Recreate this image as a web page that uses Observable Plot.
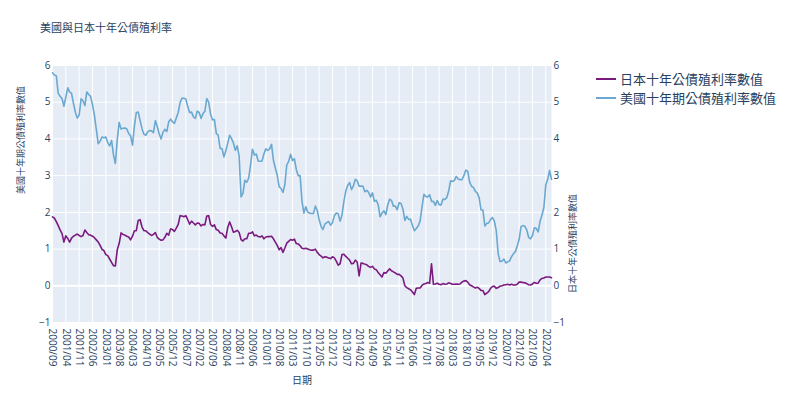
<!DOCTYPE html>
<html>
<head>
<meta charset="utf-8">
<script src="https://cdn.jsdelivr.net/npm/d3@7"></script>
<script src="https://cdn.jsdelivr.net/npm/@observablehq/plot@0.6"></script>
<style>
  body { margin: 0; background: #fff; }
  #wrap { position: relative; width: 788px; height: 394px; overflow: hidden;
    font-family: "Open Sans", "Noto Sans CJK TC", sans-serif; color: #2a3f5f; }
  #wrap svg { position: absolute; left: 0; top: 0; }
  #title { position: absolute; left: 40px; top: 22px; font-size: 11px; line-height: 12px; white-space: nowrap; }
  .leg { position: absolute; left: 596px; font-size: 13px; line-height: 16px; display: flex; align-items: center; white-space: nowrap; }
  .leg span.sw { display: inline-block; width: 20px; height: 2px; margin-right: 4px; }
</style>
</head>
<body>
<div id="wrap">
  <div id="title"></div>
</div>
<script>
// ---- data ----
const chartTitle = "美國與日本十年公債殖利率";
const xTitle = "日期";
const leftTitle = "美國十年期公債殖利率數值";
const rightTitle = "日本十年公債殖利率數值";
const seriesNames = ["日本十年公債殖利率數值", "美國十年期公債殖利率數值"];
const seriesColors = ["#7a1a7e", "#6aa8d0"];
const yTicks = [-1, 0, 1, 2, 3, 4, 5, 6];

// monthly categories 2000/09 .. 2022/07
const months = [];
for (let y = 2000, m = 9; y < 2022 || (y === 2022 && m <= 7); ) {
  months.push(`${y}/${String(m).padStart(2, "0")}`);
  m++; if (m > 12) { m = 1; y++; }
}
const xTicks = months.filter((d, i) => i % 7 === 0);

const usYield = [
  5.80, 5.74, 5.72, 5.24,
  5.16, 5.10, 4.89, 5.14, 5.39, 5.28, 5.24, 4.97, 4.73, 4.57, 4.65, 5.09,
  5.04, 4.91, 5.28, 5.21, 5.16, 4.93, 4.65, 4.26, 3.87, 3.94, 4.05, 4.03,
  4.05, 3.90, 3.81, 3.96, 3.57, 3.33, 3.98, 4.45, 4.27, 4.29, 4.30, 4.27,
  4.15, 4.08, 3.83, 4.35, 4.72, 4.73, 4.50, 4.28, 4.13, 4.10, 4.19, 4.23,
  4.22, 4.17, 4.50, 4.34, 4.14, 4.00, 4.18, 4.26, 4.20, 4.46, 4.54, 4.47,
  4.42, 4.57, 4.72, 4.99, 5.11, 5.11, 5.09, 4.88, 4.72, 4.73, 4.60, 4.56,
  4.76, 4.72, 4.56, 4.69, 4.75, 5.10, 5.00, 4.67, 4.52, 4.53, 4.15, 4.10,
  3.74, 3.74, 3.51, 3.68, 3.88, 4.10, 4.01, 3.89, 3.69, 3.81, 3.53, 2.42,
  2.52, 2.87, 2.82, 2.93, 3.29, 3.72, 3.56, 3.59, 3.40, 3.39, 3.40, 3.59,
  3.73, 3.69, 3.73, 3.85, 3.42, 3.20, 3.01, 2.70, 2.65, 2.54, 2.76, 3.29,
  3.39, 3.58, 3.41, 3.46, 3.17, 3.00, 3.00, 2.30, 1.98, 2.15, 2.01, 1.98,
  1.97, 1.97, 2.17, 2.05, 1.80, 1.62, 1.53, 1.68, 1.72, 1.75, 1.65, 1.72,
  1.91, 1.98, 1.96, 1.76, 1.93, 2.30, 2.58, 2.74, 2.81, 2.62, 2.72, 2.90,
  2.86, 2.71, 2.72, 2.71, 2.56, 2.60, 2.54, 2.42, 2.53, 2.30, 2.33, 2.21,
  1.88, 1.98, 2.04, 1.94, 2.20, 2.36, 2.32, 2.17, 2.17, 2.07, 2.26, 2.24,
  2.09, 1.78, 1.89, 1.81, 1.81, 1.64, 1.50, 1.56, 1.63, 1.76, 2.14, 2.49,
  2.43, 2.42, 2.48, 2.30, 2.30, 2.19, 2.32, 2.21, 2.20, 2.36, 2.35, 2.40,
  2.58, 2.86, 2.84, 2.87, 2.98, 2.91, 2.89, 2.89, 3.00, 3.15, 3.12, 2.83,
  2.71, 2.68, 2.57, 2.53, 2.40, 2.07, 2.06, 1.63, 1.70, 1.71, 1.81, 1.86,
  1.76, 1.50, 0.87, 0.66, 0.67, 0.73, 0.62, 0.65, 0.68, 0.79, 0.87, 0.93,
  1.08, 1.26, 1.61, 1.64, 1.62, 1.52, 1.32, 1.28, 1.37, 1.58, 1.56, 1.47,
  1.76, 1.93, 2.13, 2.75, 2.90, 3.14, 2.90
];

const jpYield = [
  1.88, 1.84, 1.75, 1.64,
  1.52, 1.42, 1.19, 1.36, 1.29, 1.19, 1.30, 1.35, 1.38, 1.41, 1.37, 1.34,
  1.37, 1.52, 1.45, 1.39, 1.38, 1.35, 1.31, 1.25, 1.19, 1.10, 0.99, 0.96,
  0.85, 0.82, 0.73, 0.64, 0.55, 0.54, 0.98, 1.15, 1.44, 1.40, 1.38, 1.35,
  1.33, 1.25, 1.35, 1.50, 1.50, 1.78, 1.80, 1.60, 1.50, 1.50, 1.45, 1.41,
  1.37, 1.40, 1.45, 1.32, 1.27, 1.24, 1.25, 1.32, 1.43, 1.38, 1.55, 1.53,
  1.48, 1.57, 1.67, 1.91, 1.90, 1.88, 1.91, 1.80, 1.68, 1.76, 1.71, 1.66,
  1.71, 1.70, 1.63, 1.67, 1.66, 1.90, 1.91, 1.67, 1.62, 1.66, 1.53, 1.51,
  1.44, 1.43, 1.36, 1.30, 1.59, 1.74, 1.61, 1.46, 1.48, 1.51, 1.45, 1.26,
  1.22, 1.28, 1.28, 1.43, 1.43, 1.47, 1.36, 1.38, 1.34, 1.33, 1.36, 1.28,
  1.33, 1.34, 1.34, 1.35, 1.28, 1.19, 1.10, 0.98, 1.04, 0.91, 1.03, 1.16,
  1.21, 1.26, 1.24, 1.27, 1.15, 1.14, 1.09, 1.02, 1.01, 1.02, 1.00, 0.98,
  0.97, 0.97, 1.00, 0.91, 0.85, 0.81, 0.76, 0.79, 0.78, 0.76, 0.74, 0.79,
  0.76, 0.67, 0.56, 0.60, 0.85, 0.86, 0.80, 0.75, 0.70, 0.60, 0.61, 0.70,
  0.64, 0.27, 0.62, 0.61, 0.59, 0.57, 0.53, 0.50, 0.53, 0.46, 0.44, 0.36,
  0.30, 0.24, 0.36, 0.34, 0.40, 0.46, 0.41, 0.38, 0.35, 0.31, 0.31, 0.27,
  0.21, 0.00, -0.05, -0.08, -0.11, -0.17, -0.24, -0.07, -0.06, -0.06, 0.01, 0.05,
  0.06, 0.09, 0.07, 0.60, 0.04, 0.05, 0.07, 0.04, 0.03, 0.06, 0.04, 0.05,
  0.08, 0.06, 0.04, 0.04, 0.05, 0.04, 0.05, 0.10, 0.13, 0.14, 0.10, 0.03,
  0.00, -0.03, -0.06, -0.04, -0.07, -0.13, -0.13, -0.24, -0.20, -0.16, -0.07, -0.02,
  -0.01, -0.07, -0.05, -0.01, 0.00, 0.02, 0.03, 0.04, 0.02, 0.04, 0.02, 0.02,
  0.04, 0.10, 0.10, 0.09, 0.08, 0.06, 0.03, 0.02, 0.05, 0.09, 0.07, 0.07,
  0.16, 0.20, 0.21, 0.24, 0.24, 0.24, 0.22
];

// ---- chart ----
const font = '"Open Sans", "Noto Sans CJK TC", sans-serif';
const textColor = "#2a3f5f";
const jpRows = months.map((m, i) => ({month: m, value: jpYield[i]}));
const usRows = months.map((m, i) => ({month: m, value: usYield[i]}));

const chart = Plot.plot({
  width: 788,
  height: 394,
  marginLeft: 52,
  marginRight: 237,
  marginTop: 65,
  marginBottom: 72,
  style: {fontFamily: font, fontSize: "10px", color: textColor, background: "transparent", overflow: "visible"},
  x: {type: "point", domain: months, padding: 0},
  y: {domain: [-1, 6]},
  marks: [
    Plot.frame({fill: "#E5ECF6", stroke: null}),
    Plot.gridX(xTicks, {stroke: "#ffffff", strokeOpacity: 1, strokeWidth: 1}),
    Plot.gridY(yTicks, {stroke: "#ffffff", strokeOpacity: 1, strokeWidth: 1}),
    Plot.ruleY([0], {stroke: "#ffffff", strokeWidth: 2}),
    Plot.axisX(xTicks, {tickRotate: 90, tickSize: 0, tickPadding: 6, label: null, fill: textColor, fontSize: 10}),
    Plot.axisY(yTicks, {anchor: "left", tickSize: 0, tickPadding: 2, label: null, fill: textColor, fontSize: 10}),
    Plot.axisY(yTicks, {anchor: "right", tickSize: 0, tickPadding: 2, label: null, fill: textColor, fontSize: 10}),
    Plot.text([xTitle], {frameAnchor: "bottom", dy: 61, fill: textColor, fontSize: 10}),
    Plot.text([leftTitle], {frameAnchor: "left", dx: -31, rotate: -90, fill: textColor, fontSize: 9}),
    Plot.text([rightTitle], {frameAnchor: "right", dx: 22, rotate: -90, fill: textColor, fontSize: 9}),
    Plot.lineY(jpRows, {x: "month", y: "value", stroke: seriesColors[0], strokeWidth: 1.6}),
    Plot.lineY(usRows, {x: "month", y: "value", stroke: seriesColors[1], strokeWidth: 1.6})
  ]
});

const wrap = document.getElementById("wrap");
wrap.insertBefore(chart, wrap.firstChild);
document.getElementById("title").textContent = chartTitle;

seriesNames.forEach((name, i) => {
  const row = document.createElement("div");
  row.className = "leg";
  row.style.top = (71 + i * 19) + "px";
  const sw = document.createElement("span");
  sw.className = "sw";
  sw.style.background = seriesColors[i];
  row.appendChild(sw);
  const t = document.createElement("span");
  t.textContent = name;
  row.appendChild(t);
  wrap.appendChild(row);
});
</script>
</body>
</html>
